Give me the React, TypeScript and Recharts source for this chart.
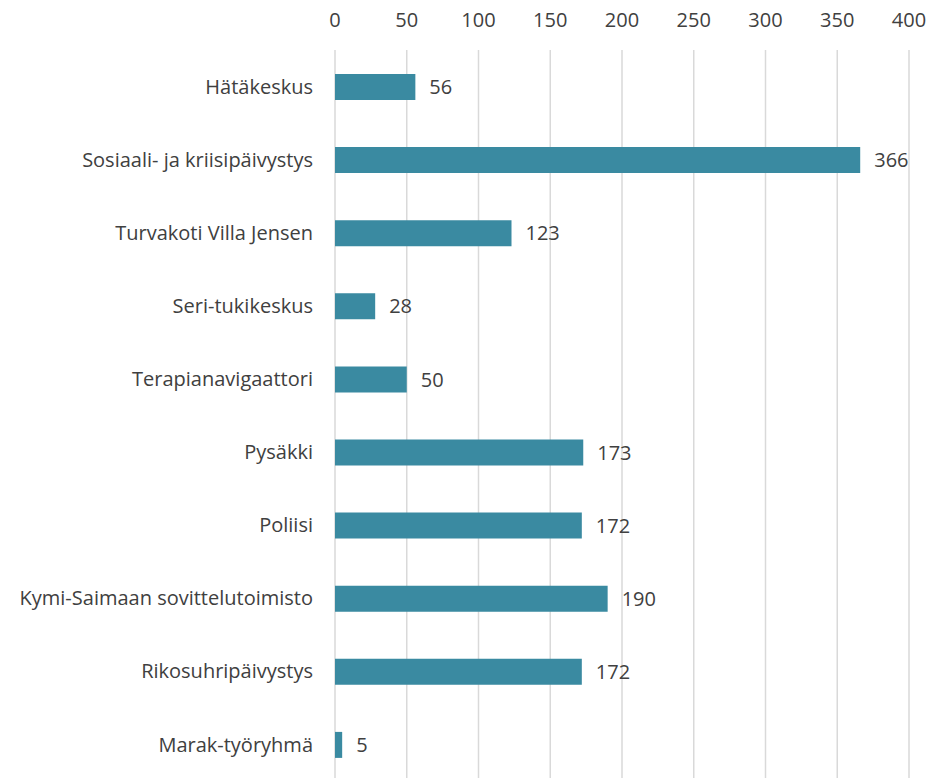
import { BarChart, Bar, XAxis, YAxis, CartesianGrid, LabelList } from 'recharts';

const categories = [
  'Hätäkeskus',
  'Sosiaali- ja kriisipäivystys',
  'Turvakoti Villa Jensen',
  'Seri-tukikeskus',
  'Terapianavigaattori',
  'Pysäkki',
  'Poliisi',
  'Kymi-Saimaan sovittelutoimisto',
  'Rikosuhripäivystys',
  'Marak-työryhmä',
];

const counts = [56, 366, 123, 28, 50, 173, 172, 190, 172, 5];

const xTicks = [0, 50, 100, 150, 200, 250, 300, 350, 400];

const data = categories.map((name, i) => ({ name, value: counts[i] }));

const FONT = '"Open Sans", "Noto Sans", sans-serif';

export default function App() {
  return (
    <div
      style={{
        position: 'absolute',
        left: 0,
        top: 0,
        width: 948,
        height: 778,
        overflow: 'hidden',
        background: '#fff',
        fontFamily: FONT,
      }}
    >
      <BarChart
        width={948}
        height={781}
        data={data}
        layout="vertical"
        margin={{ top: 0, right: 39, bottom: 0, left: 0 }}
        barSize={26}
      >
        <CartesianGrid stroke="#d9d9d9" strokeWidth={1.5} horizontal={false} />
        <XAxis
          type="number"
          orientation="top"
          domain={[0, 400]}
          ticks={xTicks}
          height={50}
          axisLine={false}
          tickLine={false}
          tickMargin={17}
          tick={{ fontSize: 20, fill: '#404040', fontFamily: FONT }}
        />
        <YAxis
          type="category"
          dataKey="name"
          width={335}
          axisLine={false}
          tickLine={false}
          tickMargin={16}
          interval={0}
          tick={{ fontSize: 20, fill: '#404040', fontFamily: FONT }}
        />
        <Bar dataKey="value" fill="#3a8aa1" isAnimationActive={false}>
          <LabelList
            dataKey="value"
            position="right"
            offset={14}
            style={{ fontSize: 20, fill: '#404040', fontFamily: FONT }}
          />
        </Bar>
      </BarChart>
    </div>
  );
}
